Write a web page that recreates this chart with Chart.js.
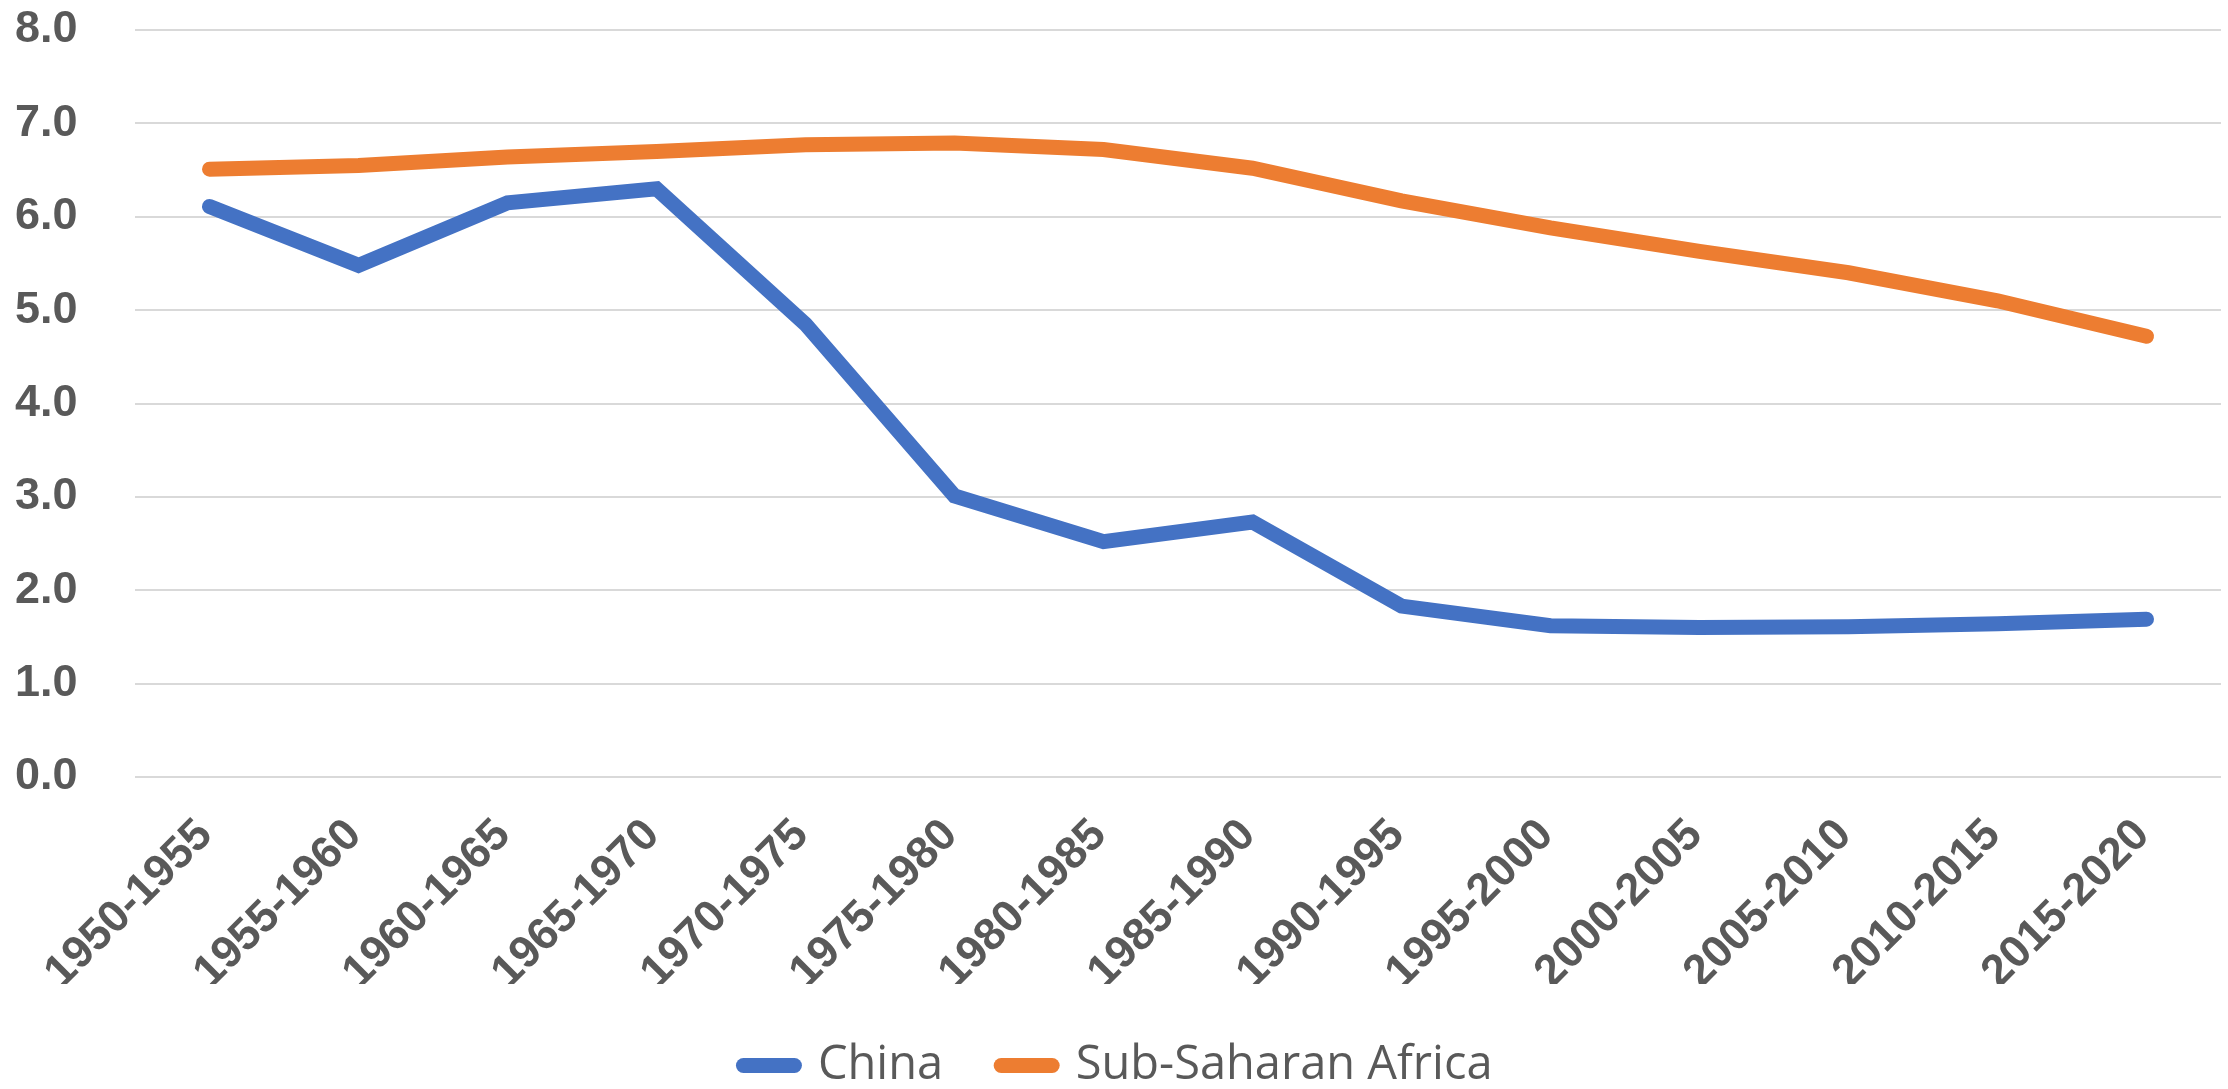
<!DOCTYPE html>
<html>
<head>
<meta charset="utf-8">
<script src="https://cdn.jsdelivr.net/npm/chart.js@4"></script>
<style>
  html, body { margin: 0; padding: 0; background: #ffffff; }
  #wrap { width: 2228px; height: 1089px; position: relative; }
</style>
</head>
<body>
<div id="wrap"><canvas id="c"></canvas></div>
<script>
const categories = ['1950-1955','1955-1960','1960-1965','1965-1970','1970-1975','1975-1980','1980-1985','1985-1990','1990-1995','1995-2000','2000-2005','2005-2010','2010-2015','2015-2020'];
const chinaValues = [6.11, 5.48, 6.15, 6.30, 4.85, 3.01, 2.52, 2.73, 1.83, 1.62, 1.60, 1.61, 1.64, 1.69];
const ssaValues = [6.51, 6.55, 6.64, 6.70, 6.77, 6.79, 6.72, 6.52, 6.17, 5.88, 5.63, 5.40, 5.10, 4.72];
const seriesNames = ['China', 'Sub-Saharan Africa'];
const yMin = 0, yMax = 8, yStep = 1;

const textColor = '#595959';

new Chart(document.getElementById('c'), {
  type: 'line',
  data: {
    labels: categories,
    datasets: [
      {
        label: seriesNames[0],
        data: chinaValues,
        borderColor: '#4472C4',
        backgroundColor: '#4472C4',
        borderWidth: 15,
        borderCapStyle: 'round',
        pointRadius: 0,
        pointHoverRadius: 0,
        tension: 0,
        fill: false
      },
      {
        label: seriesNames[1],
        data: ssaValues,
        borderColor: '#ED7D31',
        backgroundColor: '#ED7D31',
        borderWidth: 15,
        borderCapStyle: 'round',
        pointRadius: 0,
        pointHoverRadius: 0,
        tension: 0,
        fill: false
      }
    ]
  },
  options: {
    responsive: true,
    maintainAspectRatio: false,
    animation: false,
    devicePixelRatio: 1,
    layout: { padding: { left: 15, right: 7, top: 30, bottom: -10 } },
    plugins: {
      tooltip: { enabled: false },
      legend: {
        display: true,
        position: 'bottom',
        labels: {
          usePointStyle: true,
          pointStyle: 'line',
          pointStyleWidth: 51,
          color: textColor,
          padding: 58,
          font: { family: '"Open Sans", "Noto Sans", sans-serif', size: 47, weight: 'normal' },
          generateLabels: (chart) => Chart.defaults.plugins.legend.labels.generateLabels(chart)
            .map(item => Object.assign(item, { lineCap: 'round', lineWidth: 15 }))
        }
      }
    },
    scales: {
      x: {
        type: 'category',
        offset: true,
        grid: { display: false, drawTicks: false },
        border: { display: false },
        afterFit: (s) => { s.height = 207; },
        ticks: {
          autoSkip: false,
          minRotation: 45,
          maxRotation: 45,
          padding: 32,
          labelOffset: -4,
          color: textColor,
          font: { family: '"Liberation Sans", Arial, sans-serif', size: 45, weight: 'bold' }
        }
      },
      y: {
        min: yMin,
        max: yMax,
        grid: { color: '#D9D9D9', lineWidth: 2, drawTicks: false },
        border: { display: false },
        afterFit: (s) => { s.width = 120; },
        ticks: {
          stepSize: yStep,
          padding: 0,
          crossAlign: 'far',
          color: textColor,
          font: { family: '"Liberation Sans", Arial, sans-serif', size: 45, weight: 'bold' },
          callback: (v) => Number(v).toFixed(1)
        }
      }
    }
  }
});
</script>
</body>
</html>
